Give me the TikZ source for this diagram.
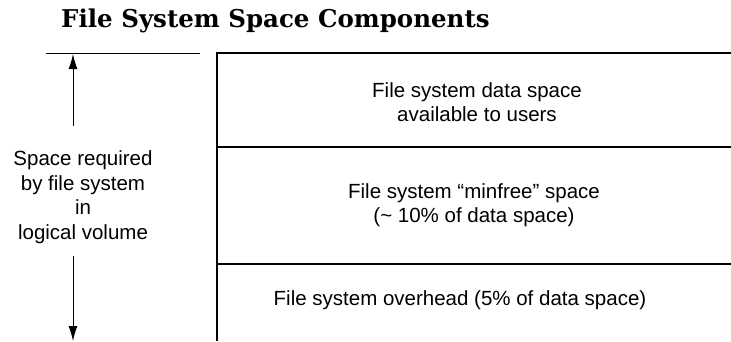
\documentclass[tikz,border=0pt]{standalone}
\usepackage{fontspec}
\setmainfont{Liberation Sans}
\newfontfamily\titlefont{DejaVu Serif}
\usetikzlibrary{arrows.meta}

\begin{document}
\begin{tikzpicture}[x=1pt, y=-1pt,
    txt/.style={align=center, inner sep=0pt, font=\fontsize{20.5}{24.5}\selectfont},
    rule/.style={line width=1.4pt},
    dim/.style={line width=1pt, -{Latex[length=15pt,width=9pt]}}]
    \useasboundingbox (0,0) rectangle (731,341);
    \node[anchor=base west, inner sep=0pt, font=\titlefont\bfseries\fontsize{24.5}{28}\selectfont] at (61,27) (T) {File System Space Components};
    % the space column
    \coordinate (B0) at (217,53);
    \coordinate (B1) at (217,147);
    \coordinate (B2) at (217,264);
    \coordinate (B3) at (217,341);
    \draw[rule] (731,53) -- (B0) -- (B3);
    \draw[rule] (B1) -- (731,147);
    \draw[rule] (B2) -- (731,264);
    \node[txt] at (477,102) (S1) {File system data space\\available to users};
    \node[txt] at (474,205) (S2) {File system ``minfree'' space\\(\char`~\ 10\% of data space)};
    \node[txt] at (460,300) (S3) {File system overhead (5\% of data space)};
    % the extent on the left
    \coordinate (L0) at (46,53);
    \coordinate (L1) at (200,53);
    \draw[line width=0.8pt] (L0) -- (L1);
    \node[txt] at (83,197) (R) {Space required\\by file system\\in\\logical volume};
    \coordinate (A0) at (73,126);
    \coordinate (A1) at (73,54);
    \coordinate (A2) at (73,256);
    \coordinate (A3) at (73,341);
    \path[dim] (A0) edge (A1);
    \path[dim] (A2) edge (A3);
\end{tikzpicture}
\end{document}
